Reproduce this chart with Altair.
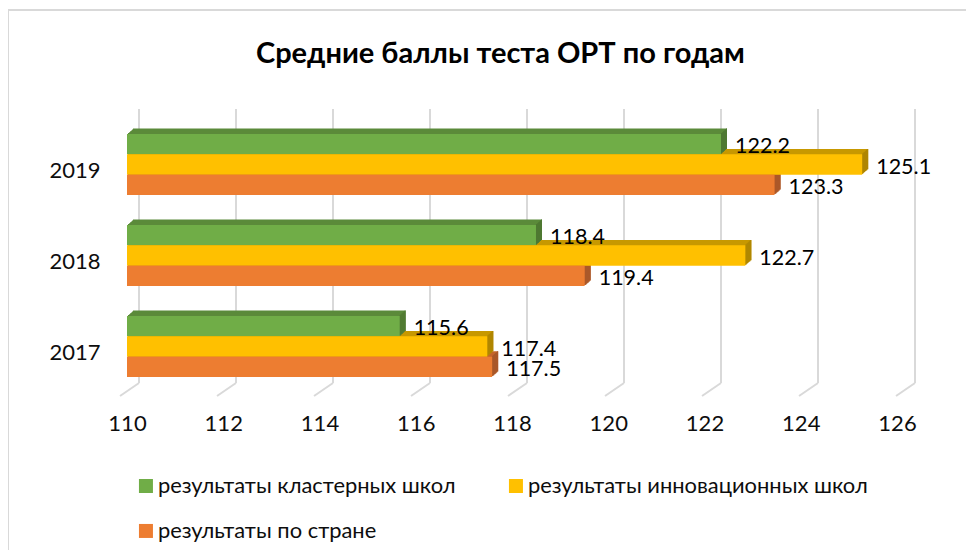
import altair as alt
import pandas as pd

years = ["2019", "2018", "2017"]
series = ["результаты кластерных школ", "результаты инновационных школ", "результаты по стране"]
cluster = [122.2, 118.4, 115.6]
innov = [125.1, 122.7, 117.4]
country = [123.3, 119.4, 117.5]
ticks = [110, 112, 114, 116, 118, 120, 122, 124, 126]
front = ["#70ad47", "#ffc000", "#ed7d31"]
top = ["#5b8a3a", "#c79800", "#c4652a"]
side = ["#4f7832", "#ab8300", "#a5562a"]
FONT = "Lato"

rows = []
for vals, s in zip([cluster, innov, country], series):
    for y, v in zip(years, vals):
        rows.append({"year": y, "series": s, "value": v, "base": 110})
df = pd.DataFrame(rows)
tick_df = pd.DataFrame({"tick": ticks})

W, H = 958, 542
bar_x = alt.Scale(domain=[110, 126], range=[119, 898])
tick_x = alt.Scale(domain=[110, 126], range=[119, 889])
grid_x = alt.Scale(domain=[110, 126], range=[131, 907])
off_y = alt.Scale(domain=series, range=[0, 61], paddingInner=0, paddingOuter=0)


def band(shift=0.0):
    return alt.Scale(type="band", domain=years, range=[126 + shift, 369 + shift],
                     paddingInner=30 / 91, paddingOuter=0)


def Y(shift=0.0):
    return alt.Y("year:N", scale=band(shift), axis=None, sort=years)


YO = alt.YOffset("series:N", scale=off_y, sort=series)
X = alt.X("value:Q", scale=bar_x, axis=None)
X2 = alt.X2("base:Q")

depth = []
fronts = []
for k, s in reversed(list(enumerate(series))):
    sub = df[df.series == s]
    base = alt.Chart(sub)
    for i in range(6, 0, -1):
        depth.append(base.mark_bar(color=top[k], xOffset=i, x2Offset=i)
                     .encode(x=X, x2=X2, y=Y(-i * 0.9), yOffset=YO))
    for i in range(6, 0, -1):
        depth.append(base.mark_bar(color=side[k], xOffset=i, x2Offset=i - 1)
                     .encode(x=X, x2=alt.X2("value:Q"), y=Y(-i * 0.9), yOffset=YO))

fronts.append(alt.Chart(df).mark_bar().encode(
    x=X, x2=X2, y=Y(), yOffset=YO,
    color=alt.Color("series:N", scale=alt.Scale(domain=series, range=front), sort=series,
                    legend=alt.Legend(title=None, orient="none", legendX=127, legendY=467,
                                      direction="horizontal",
                                      columns=2, columnPadding=49, rowPadding=22,
                                      symbolType="square", symbolSize=196, symbolStrokeWidth=0,
                                      labelFont=FONT, labelFontSize=21.9, labelColor="#0d0d0d",
                                      labelOffset=1, labelLimit=500)),
))

grid = alt.Chart(tick_df).mark_rule(color="#d9d9d9", strokeWidth=2).encode(
    x=alt.X("tick:Q", scale=grid_x, axis=None), y=alt.value(101), y2=alt.value(375))
floor = alt.Chart(tick_df).mark_rule(color="#d9d9d9", strokeWidth=2, x2Offset=-19).encode(
    x=alt.X("tick:Q", scale=grid_x, axis=None), x2=alt.X2("tick:Q"), y=alt.value(375), y2=alt.value(388))

xaxis = alt.Chart(tick_df).mark_point(opacity=0).encode(
    x=alt.X("tick:Q", scale=tick_x,
            axis=alt.Axis(title=None, values=ticks, domain=False, ticks=False, grid=False, offset=-142,
                          labelFont=FONT, labelFontSize=22, labelColor="#0d0d0d", labelPadding=5,
                          labelFlush=False, format="d")))
yaxis = alt.Chart(df).mark_point(opacity=0).encode(
    y=alt.Y("year:N", scale=band(), sort=years,
            axis=alt.Axis(title=None, domain=False, ticks=False, grid=False, offset=-92,
                          labelFont=FONT, labelFontSize=22, labelColor="#0d0d0d", labelPadding=0,
                          labelOffset=6.5, labelAngle=0)))

labels = alt.Chart(df).mark_text(align="left", baseline="middle", dx=14, dy=3, font=FONT, fontSize=21.5,
                                 color="#000000").encode(
    x=X, y=Y(), yOffset=YO, text=alt.Text("value:Q", format=".1f"))

frame_rows = pd.DataFrame({"a": [0]})
frame = [
    alt.Chart(frame_rows).mark_rule(color="#d9d9d9", strokeWidth=2).encode(x=alt.value(0), x2=alt.value(W), y=alt.value(2)),
    alt.Chart(frame_rows).mark_rule(color="#d9d9d9", strokeWidth=2).encode(x=alt.value(0), y=alt.value(2), y2=alt.value(H)),
]

chart = alt.layer(*frame, grid, floor, *depth, *fronts, labels, xaxis, yaxis).resolve_scale(
    x="independent", y="independent"
).properties(
    width=W, height=H, padding=0, autosize=alt.AutoSizeParams(type="none"),
    title=alt.TitleParams("Средние баллы теста ОРТ по годам", anchor="start", dx=249, dy=65,
                          font=FONT, fontSize=29, fontWeight="bold", color="#000000"),
).configure_view(stroke=None)

chart.save("out.html", embed_options={"renderer": "svg", "actions": False})
